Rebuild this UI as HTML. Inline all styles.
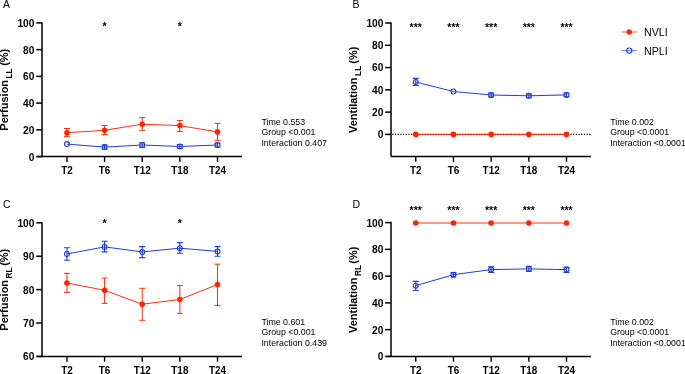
<!DOCTYPE html><html><head><meta charset="utf-8"><style>html,body{margin:0;padding:0;background:#fff;width:685px;height:374px;overflow:hidden}svg{display:block;will-change:transform}text{font-family:"Liberation Sans",sans-serif}.yl{font-weight:bold;font-size:10.2px;text-anchor:end;fill:#000}.xl{font-weight:bold;font-size:10.6px;text-anchor:middle;fill:#000}.at{font-weight:bold;font-size:11px;fill:#000}.sub{font-size:8.4px}.pl{font-size:10.5px;fill:#000}.stat{font-size:9.2px;fill:#000}.st{font-size:10.5px;font-weight:bold;text-anchor:middle;fill:#000}.lg{font-size:10.7px;fill:#000}</style></head><body>
<svg width="685" height="374" viewBox="0 0 685 374">
<path d="M42,22.15V156.6M37.1,156.6H242" fill="none" stroke="#000" stroke-width="1.5"/>
<line x1="36.2" y1="156.6" x2="42" y2="156.6" stroke="#000" stroke-width="1.5"/>
<text x="34.4" y="160.5" class="yl">0</text>
<line x1="36.2" y1="129.86" x2="42" y2="129.86" stroke="#000" stroke-width="1.5"/>
<text x="34.4" y="133.76" class="yl">20</text>
<line x1="36.2" y1="103.12" x2="42" y2="103.12" stroke="#000" stroke-width="1.5"/>
<text x="34.4" y="107.02" class="yl">40</text>
<line x1="36.2" y1="76.38" x2="42" y2="76.38" stroke="#000" stroke-width="1.5"/>
<text x="34.4" y="80.28" class="yl">60</text>
<line x1="36.2" y1="49.64" x2="42" y2="49.64" stroke="#000" stroke-width="1.5"/>
<text x="34.4" y="53.54" class="yl">80</text>
<line x1="36.2" y1="22.9" x2="42" y2="22.9" stroke="#000" stroke-width="1.5"/>
<text x="34.4" y="26.8" class="yl">100</text>
<line x1="66.95" y1="156.6" x2="66.95" y2="161.9" stroke="#000" stroke-width="1.4"/>
<text x="66.95" y="173.8" class="xl" textLength="11.55" lengthAdjust="spacingAndGlyphs">T2</text>
<line x1="104.59" y1="156.6" x2="104.59" y2="161.9" stroke="#000" stroke-width="1.4"/>
<text x="104.59" y="173.8" class="xl" textLength="11.55" lengthAdjust="spacingAndGlyphs">T6</text>
<line x1="142.23" y1="156.6" x2="142.23" y2="161.9" stroke="#000" stroke-width="1.4"/>
<text x="142.23" y="173.8" class="xl" textLength="17.1" lengthAdjust="spacingAndGlyphs">T12</text>
<line x1="179.87" y1="156.6" x2="179.87" y2="161.9" stroke="#000" stroke-width="1.4"/>
<text x="179.87" y="173.8" class="xl" textLength="17.1" lengthAdjust="spacingAndGlyphs">T18</text>
<line x1="217.51" y1="156.6" x2="217.51" y2="161.9" stroke="#000" stroke-width="1.4"/>
<text x="217.51" y="173.8" class="xl" textLength="17.1" lengthAdjust="spacingAndGlyphs">T24</text>
<polyline points="66.95,144.1 104.59,147.1 142.23,145 179.87,146.5 217.51,145" fill="none" stroke="#1e3cd6" stroke-width="1"/>
<circle cx="66.95" cy="144.1" r="2.45" fill="none" stroke="#1e3cd6" stroke-width="1.1"/>
<path d="M104.59,145V149.2M101.59,145H107.59M101.59,149.2H107.59" fill="none" stroke="#1e3cd6" stroke-width="1.1"/>
<circle cx="104.59" cy="147.1" r="2.45" fill="none" stroke="#1e3cd6" stroke-width="1.1"/>
<path d="M142.23,142.8V147.5M139.23,142.8H145.23M139.23,147.5H145.23" fill="none" stroke="#1e3cd6" stroke-width="1.1"/>
<circle cx="142.23" cy="145" r="2.45" fill="none" stroke="#1e3cd6" stroke-width="1.1"/>
<path d="M179.87,144.5V148.5M176.87,144.5H182.87M176.87,148.5H182.87" fill="none" stroke="#1e3cd6" stroke-width="1.1"/>
<circle cx="179.87" cy="146.5" r="2.45" fill="none" stroke="#1e3cd6" stroke-width="1.1"/>
<path d="M217.51,143V147M214.51,143H220.51M214.51,147H220.51" fill="none" stroke="#1e3cd6" stroke-width="1.1"/>
<circle cx="217.51" cy="145" r="2.45" fill="none" stroke="#1e3cd6" stroke-width="1.1"/>
<polyline points="66.95,132.7 104.59,130.3 142.23,124.2 179.87,125.6 217.51,131.9" fill="none" stroke="#ff2200" stroke-width="0.95"/>
<path d="M66.95,128.5V136.4M63.95,128.5H69.95M63.95,136.4H69.95" fill="none" stroke="#ff2200" stroke-width="0.95"/>
<circle cx="66.95" cy="132.7" r="2.8" fill="#ff2200"/>
<path d="M104.59,125.5V134.5M101.59,125.5H107.59M101.59,134.5H107.59" fill="none" stroke="#ff2200" stroke-width="0.95"/>
<circle cx="104.59" cy="130.3" r="2.8" fill="#ff2200"/>
<path d="M142.23,117.6V130.4M139.23,117.6H145.23M139.23,130.4H145.23" fill="none" stroke="#ff2200" stroke-width="0.95"/>
<circle cx="142.23" cy="124.2" r="2.8" fill="#ff2200"/>
<path d="M179.87,120.5V131.5M176.87,120.5H182.87M176.87,131.5H182.87" fill="none" stroke="#ff2200" stroke-width="0.95"/>
<circle cx="179.87" cy="125.6" r="2.8" fill="#ff2200"/>
<path d="M217.51,123.4V140.4M214.51,123.4H220.51M214.51,140.4H220.51" fill="none" stroke="#ff2200" stroke-width="0.95"/>
<circle cx="217.51" cy="131.9" r="2.8" fill="#ff2200"/>
<text x="104.59" y="30.4" class="st">*</text>
<text x="179.87" y="30.4" class="st">*</text>
<path d="M391,22.25V156.5M391,156.5H591" fill="none" stroke="#000" stroke-width="1.5"/>
<line x1="385.2" y1="134.4" x2="391" y2="134.4" stroke="#000" stroke-width="1.5"/>
<text x="383.4" y="138.3" class="yl">0</text>
<line x1="385.2" y1="112.12" x2="391" y2="112.12" stroke="#000" stroke-width="1.5"/>
<text x="383.4" y="116.02" class="yl">20</text>
<line x1="385.2" y1="89.84" x2="391" y2="89.84" stroke="#000" stroke-width="1.5"/>
<text x="383.4" y="93.74" class="yl">40</text>
<line x1="385.2" y1="67.56" x2="391" y2="67.56" stroke="#000" stroke-width="1.5"/>
<text x="383.4" y="71.46" class="yl">60</text>
<line x1="385.2" y1="45.28" x2="391" y2="45.28" stroke="#000" stroke-width="1.5"/>
<text x="383.4" y="49.18" class="yl">80</text>
<line x1="385.2" y1="23" x2="391" y2="23" stroke="#000" stroke-width="1.5"/>
<text x="383.4" y="26.9" class="yl">100</text>
<line x1="415.75" y1="156.5" x2="415.75" y2="161.8" stroke="#000" stroke-width="1.4"/>
<text x="415.75" y="173.7" class="xl" textLength="11.55" lengthAdjust="spacingAndGlyphs">T2</text>
<line x1="453.44" y1="156.5" x2="453.44" y2="161.8" stroke="#000" stroke-width="1.4"/>
<text x="453.44" y="173.7" class="xl" textLength="11.55" lengthAdjust="spacingAndGlyphs">T6</text>
<line x1="491.13" y1="156.5" x2="491.13" y2="161.8" stroke="#000" stroke-width="1.4"/>
<text x="491.13" y="173.7" class="xl" textLength="17.1" lengthAdjust="spacingAndGlyphs">T12</text>
<line x1="528.82" y1="156.5" x2="528.82" y2="161.8" stroke="#000" stroke-width="1.4"/>
<text x="528.82" y="173.7" class="xl" textLength="17.1" lengthAdjust="spacingAndGlyphs">T18</text>
<line x1="566.51" y1="156.5" x2="566.51" y2="161.8" stroke="#000" stroke-width="1.4"/>
<text x="566.51" y="173.7" class="xl" textLength="17.1" lengthAdjust="spacingAndGlyphs">T24</text>
<line x1="392.2" y1="134.4" x2="591" y2="134.4" stroke="#000" stroke-width="1.2" stroke-dasharray="1.2 1.5"/>
<polyline points="415.75,82 453.44,91.5 491.13,95 528.82,95.8 566.51,94.9" fill="none" stroke="#1e3cd6" stroke-width="1"/>
<path d="M415.75,78.4V85.5M412.75,78.4H418.75M412.75,85.5H418.75" fill="none" stroke="#1e3cd6" stroke-width="1.1"/>
<circle cx="415.75" cy="82" r="2.45" fill="none" stroke="#1e3cd6" stroke-width="1.1"/>
<circle cx="453.44" cy="91.5" r="2.45" fill="none" stroke="#1e3cd6" stroke-width="1.1"/>
<path d="M491.13,93V97M488.13,93H494.13M488.13,97H494.13" fill="none" stroke="#1e3cd6" stroke-width="1.1"/>
<circle cx="491.13" cy="95" r="2.45" fill="none" stroke="#1e3cd6" stroke-width="1.1"/>
<path d="M528.82,93.8V97.8M525.82,93.8H531.82M525.82,97.8H531.82" fill="none" stroke="#1e3cd6" stroke-width="1.1"/>
<circle cx="528.82" cy="95.8" r="2.45" fill="none" stroke="#1e3cd6" stroke-width="1.1"/>
<path d="M566.51,93V96.8M563.51,93H569.51M563.51,96.8H569.51" fill="none" stroke="#1e3cd6" stroke-width="1.1"/>
<circle cx="566.51" cy="94.9" r="2.45" fill="none" stroke="#1e3cd6" stroke-width="1.1"/>
<polyline points="415.75,134.4 453.44,134.4 491.13,134.4 528.82,134.4 566.51,134.4" fill="none" stroke="#ff2200" stroke-width="0.95"/>
<circle cx="415.75" cy="134.4" r="2.8" fill="#ff2200"/>
<circle cx="453.44" cy="134.4" r="2.8" fill="#ff2200"/>
<circle cx="491.13" cy="134.4" r="2.8" fill="#ff2200"/>
<circle cx="528.82" cy="134.4" r="2.8" fill="#ff2200"/>
<circle cx="566.51" cy="134.4" r="2.8" fill="#ff2200"/>
<text x="415.75" y="31.3" class="st">***</text>
<text x="453.44" y="31.3" class="st">***</text>
<text x="491.13" y="31.3" class="st">***</text>
<text x="528.82" y="31.3" class="st">***</text>
<text x="566.51" y="31.3" class="st">***</text>
<path d="M42,222.05V356.4M37.1,356.4H242" fill="none" stroke="#000" stroke-width="1.5"/>
<line x1="36.2" y1="356.4" x2="42" y2="356.4" stroke="#000" stroke-width="1.5"/>
<text x="34.4" y="360.3" class="yl">60</text>
<line x1="36.2" y1="323" x2="42" y2="323" stroke="#000" stroke-width="1.5"/>
<text x="34.4" y="326.9" class="yl">70</text>
<line x1="36.2" y1="289.6" x2="42" y2="289.6" stroke="#000" stroke-width="1.5"/>
<text x="34.4" y="293.5" class="yl">80</text>
<line x1="36.2" y1="256.2" x2="42" y2="256.2" stroke="#000" stroke-width="1.5"/>
<text x="34.4" y="260.1" class="yl">90</text>
<line x1="36.2" y1="222.8" x2="42" y2="222.8" stroke="#000" stroke-width="1.5"/>
<text x="34.4" y="226.7" class="yl">100</text>
<line x1="66.95" y1="356.4" x2="66.95" y2="361.7" stroke="#000" stroke-width="1.4"/>
<text x="66.95" y="373.6" class="xl" textLength="11.55" lengthAdjust="spacingAndGlyphs">T2</text>
<line x1="104.59" y1="356.4" x2="104.59" y2="361.7" stroke="#000" stroke-width="1.4"/>
<text x="104.59" y="373.6" class="xl" textLength="11.55" lengthAdjust="spacingAndGlyphs">T6</text>
<line x1="142.23" y1="356.4" x2="142.23" y2="361.7" stroke="#000" stroke-width="1.4"/>
<text x="142.23" y="373.6" class="xl" textLength="17.1" lengthAdjust="spacingAndGlyphs">T12</text>
<line x1="179.87" y1="356.4" x2="179.87" y2="361.7" stroke="#000" stroke-width="1.4"/>
<text x="179.87" y="373.6" class="xl" textLength="17.1" lengthAdjust="spacingAndGlyphs">T18</text>
<line x1="217.51" y1="356.4" x2="217.51" y2="361.7" stroke="#000" stroke-width="1.4"/>
<text x="217.51" y="373.6" class="xl" textLength="17.1" lengthAdjust="spacingAndGlyphs">T24</text>
<polyline points="66.95,254 104.59,246.9 142.23,251.9 179.87,248.2 217.51,251.4" fill="none" stroke="#1e3cd6" stroke-width="1"/>
<path d="M66.95,247.8V260.3M63.95,247.8H69.95M63.95,260.3H69.95" fill="none" stroke="#1e3cd6" stroke-width="1.1"/>
<circle cx="66.95" cy="254" r="2.45" fill="none" stroke="#1e3cd6" stroke-width="1.1"/>
<path d="M104.59,241.2V251.9M101.59,241.2H107.59M101.59,251.9H107.59" fill="none" stroke="#1e3cd6" stroke-width="1.1"/>
<circle cx="104.59" cy="246.9" r="2.45" fill="none" stroke="#1e3cd6" stroke-width="1.1"/>
<path d="M142.23,246.6V257.6M139.23,246.6H145.23M139.23,257.6H145.23" fill="none" stroke="#1e3cd6" stroke-width="1.1"/>
<circle cx="142.23" cy="251.9" r="2.45" fill="none" stroke="#1e3cd6" stroke-width="1.1"/>
<path d="M179.87,242.6V253.3M176.87,242.6H182.87M176.87,253.3H182.87" fill="none" stroke="#1e3cd6" stroke-width="1.1"/>
<circle cx="179.87" cy="248.2" r="2.45" fill="none" stroke="#1e3cd6" stroke-width="1.1"/>
<path d="M217.51,246.6V256.2M214.51,246.6H220.51M214.51,256.2H220.51" fill="none" stroke="#1e3cd6" stroke-width="1.1"/>
<circle cx="217.51" cy="251.4" r="2.45" fill="none" stroke="#1e3cd6" stroke-width="1.1"/>
<polyline points="66.95,283 104.59,290.3 142.23,304.2 179.87,299.5 217.51,284.5" fill="none" stroke="#ff2200" stroke-width="0.95"/>
<path d="M66.95,273.4V292.4M63.95,273.4H69.95M63.95,292.4H69.95" fill="none" stroke="#ff2200" stroke-width="0.95"/>
<circle cx="66.95" cy="283" r="2.8" fill="#ff2200"/>
<path d="M104.59,278V303.4M101.59,278H107.59M101.59,303.4H107.59" fill="none" stroke="#ff2200" stroke-width="0.95"/>
<circle cx="104.59" cy="290.3" r="2.8" fill="#ff2200"/>
<path d="M142.23,288.3V320.3M139.23,288.3H145.23M139.23,320.3H145.23" fill="none" stroke="#ff2200" stroke-width="0.95"/>
<circle cx="142.23" cy="304.2" r="2.8" fill="#ff2200"/>
<path d="M179.87,285.6V313.4M176.87,285.6H182.87M176.87,313.4H182.87" fill="none" stroke="#ff2200" stroke-width="0.95"/>
<circle cx="179.87" cy="299.5" r="2.8" fill="#ff2200"/>
<path d="M217.51,264.2V305.4M214.51,264.2H220.51M214.51,305.4H220.51" fill="none" stroke="#ff2200" stroke-width="0.95"/>
<circle cx="217.51" cy="284.5" r="2.8" fill="#ff2200"/>
<text x="104.59" y="227" class="st">*</text>
<text x="179.87" y="227" class="st">*</text>
<path d="M391,221.85V356.4M386.1,356.4H591" fill="none" stroke="#000" stroke-width="1.5"/>
<line x1="385.2" y1="356.4" x2="391" y2="356.4" stroke="#000" stroke-width="1.5"/>
<text x="383.4" y="360.3" class="yl">0</text>
<line x1="385.2" y1="329.64" x2="391" y2="329.64" stroke="#000" stroke-width="1.5"/>
<text x="383.4" y="333.54" class="yl">20</text>
<line x1="385.2" y1="302.88" x2="391" y2="302.88" stroke="#000" stroke-width="1.5"/>
<text x="383.4" y="306.78" class="yl">40</text>
<line x1="385.2" y1="276.12" x2="391" y2="276.12" stroke="#000" stroke-width="1.5"/>
<text x="383.4" y="280.02" class="yl">60</text>
<line x1="385.2" y1="249.36" x2="391" y2="249.36" stroke="#000" stroke-width="1.5"/>
<text x="383.4" y="253.26" class="yl">80</text>
<line x1="385.2" y1="222.6" x2="391" y2="222.6" stroke="#000" stroke-width="1.5"/>
<text x="383.4" y="226.5" class="yl">100</text>
<line x1="415.75" y1="356.4" x2="415.75" y2="361.7" stroke="#000" stroke-width="1.4"/>
<text x="415.75" y="373.6" class="xl" textLength="11.55" lengthAdjust="spacingAndGlyphs">T2</text>
<line x1="453.44" y1="356.4" x2="453.44" y2="361.7" stroke="#000" stroke-width="1.4"/>
<text x="453.44" y="373.6" class="xl" textLength="11.55" lengthAdjust="spacingAndGlyphs">T6</text>
<line x1="491.13" y1="356.4" x2="491.13" y2="361.7" stroke="#000" stroke-width="1.4"/>
<text x="491.13" y="373.6" class="xl" textLength="17.1" lengthAdjust="spacingAndGlyphs">T12</text>
<line x1="528.82" y1="356.4" x2="528.82" y2="361.7" stroke="#000" stroke-width="1.4"/>
<text x="528.82" y="373.6" class="xl" textLength="17.1" lengthAdjust="spacingAndGlyphs">T18</text>
<line x1="566.51" y1="356.4" x2="566.51" y2="361.7" stroke="#000" stroke-width="1.4"/>
<text x="566.51" y="373.6" class="xl" textLength="17.1" lengthAdjust="spacingAndGlyphs">T24</text>
<polyline points="415.75,285.7 453.44,274.7 491.13,269.6 528.82,268.9 566.51,269.6" fill="none" stroke="#1e3cd6" stroke-width="1"/>
<path d="M415.75,281.4V290.5M412.75,281.4H418.75M412.75,290.5H418.75" fill="none" stroke="#1e3cd6" stroke-width="1.1"/>
<circle cx="415.75" cy="285.7" r="2.45" fill="none" stroke="#1e3cd6" stroke-width="1.1"/>
<path d="M453.44,272.6V277M450.44,272.6H456.44M450.44,277H456.44" fill="none" stroke="#1e3cd6" stroke-width="1.1"/>
<circle cx="453.44" cy="274.7" r="2.45" fill="none" stroke="#1e3cd6" stroke-width="1.1"/>
<path d="M491.13,266.7V272.5M488.13,266.7H494.13M488.13,272.5H494.13" fill="none" stroke="#1e3cd6" stroke-width="1.1"/>
<circle cx="491.13" cy="269.6" r="2.45" fill="none" stroke="#1e3cd6" stroke-width="1.1"/>
<path d="M528.82,266.4V271.5M525.82,266.4H531.82M525.82,271.5H531.82" fill="none" stroke="#1e3cd6" stroke-width="1.1"/>
<circle cx="528.82" cy="268.9" r="2.45" fill="none" stroke="#1e3cd6" stroke-width="1.1"/>
<path d="M566.51,267.4V272.5M563.51,267.4H569.51M563.51,272.5H569.51" fill="none" stroke="#1e3cd6" stroke-width="1.1"/>
<circle cx="566.51" cy="269.6" r="2.45" fill="none" stroke="#1e3cd6" stroke-width="1.1"/>
<polyline points="415.75,223 453.44,223 491.13,223 528.82,223 566.51,223" fill="none" stroke="#ff2200" stroke-width="0.95"/>
<circle cx="415.75" cy="223" r="2.8" fill="#ff2200"/>
<circle cx="453.44" cy="223" r="2.8" fill="#ff2200"/>
<circle cx="491.13" cy="223" r="2.8" fill="#ff2200"/>
<circle cx="528.82" cy="223" r="2.8" fill="#ff2200"/>
<circle cx="566.51" cy="223" r="2.8" fill="#ff2200"/>
<text x="415.75" y="214.1" class="st">***</text>
<text x="453.44" y="214.1" class="st">***</text>
<text x="491.13" y="214.1" class="st">***</text>
<text x="528.82" y="214.1" class="st">***</text>
<text x="566.51" y="214.1" class="st">***</text>
<g transform="translate(8.3,130.65) rotate(-90)"><text x="0" y="0" class="at">Perfusion</text><text x="52.1" y="3.8" class="at sub">LL</text><text x="64.8" y="0" class="at">(%)</text></g>
<g transform="translate(356.8,133.1) rotate(-90)"><text x="0" y="0" class="at">Ventilation</text><text x="57.15" y="4.1" class="at sub">LL</text><text x="69.35" y="0" class="at">(%)</text></g>
<g transform="translate(8.3,330.65) rotate(-90)"><text x="0" y="0" class="at">Perfusion</text><text x="52.1" y="3.8" class="at sub">RL</text><text x="64.8" y="0" class="at">(%)</text></g>
<g transform="translate(356.8,333.1) rotate(-90)"><text x="0" y="0" class="at">Ventilation</text><text x="57.15" y="4.1" class="at sub">RL</text><text x="69.35" y="0" class="at">(%)</text></g>
<text x="3" y="7.6" class="pl">A</text>
<text x="352.5" y="7.6" class="pl">B</text>
<text x="3" y="208" class="pl">C</text>
<text x="352.5" y="208" class="pl">D</text>
<text x="261.4" y="125.1" class="stat" textLength="43.7" lengthAdjust="spacingAndGlyphs">Time 0.553</text>
<text x="261.4" y="135.4" class="stat" textLength="54.06" lengthAdjust="spacingAndGlyphs">Group &lt;0.001</text>
<text x="261.4" y="145.7" class="stat" textLength="65.56" lengthAdjust="spacingAndGlyphs">Interaction 0.407</text>
<text x="610.2" y="125" class="stat" textLength="43.7" lengthAdjust="spacingAndGlyphs">Time 0.002</text>
<text x="610.2" y="135.3" class="stat" textLength="58.96" lengthAdjust="spacingAndGlyphs">Group &lt;0.0001</text>
<text x="610.2" y="145.6" class="stat" textLength="75.59" lengthAdjust="spacingAndGlyphs">Interaction &lt;0.0001</text>
<text x="261.4" y="325.1" class="stat" textLength="43.7" lengthAdjust="spacingAndGlyphs">Time 0.601</text>
<text x="261.4" y="335.4" class="stat" textLength="54.06" lengthAdjust="spacingAndGlyphs">Group &lt;0.001</text>
<text x="261.4" y="345.7" class="stat" textLength="65.56" lengthAdjust="spacingAndGlyphs">Interaction 0.439</text>
<text x="610.2" y="325" class="stat" textLength="43.7" lengthAdjust="spacingAndGlyphs">Time 0.002</text>
<text x="610.2" y="335.3" class="stat" textLength="58.96" lengthAdjust="spacingAndGlyphs">Group &lt;0.0001</text>
<text x="610.2" y="345.6" class="stat" textLength="75.59" lengthAdjust="spacingAndGlyphs">Interaction &lt;0.0001</text>
<line x1="621.7" y1="32" x2="636.8" y2="32" stroke="#ff2200" stroke-width="0.8"/><circle cx="629.3" cy="32" r="2.7" fill="#ff2200"/>
<line x1="621.7" y1="50.6" x2="636.8" y2="50.6" stroke="#1e3cd6" stroke-width="0.8" opacity="0.85"/><circle cx="629.3" cy="50.6" r="2.6" fill="none" stroke="#1e3cd6" stroke-width="1.1"/>
<text x="644" y="35.9" class="lg">NVLI</text><text x="644" y="54.5" class="lg">NPLI</text>
</svg></body></html>
